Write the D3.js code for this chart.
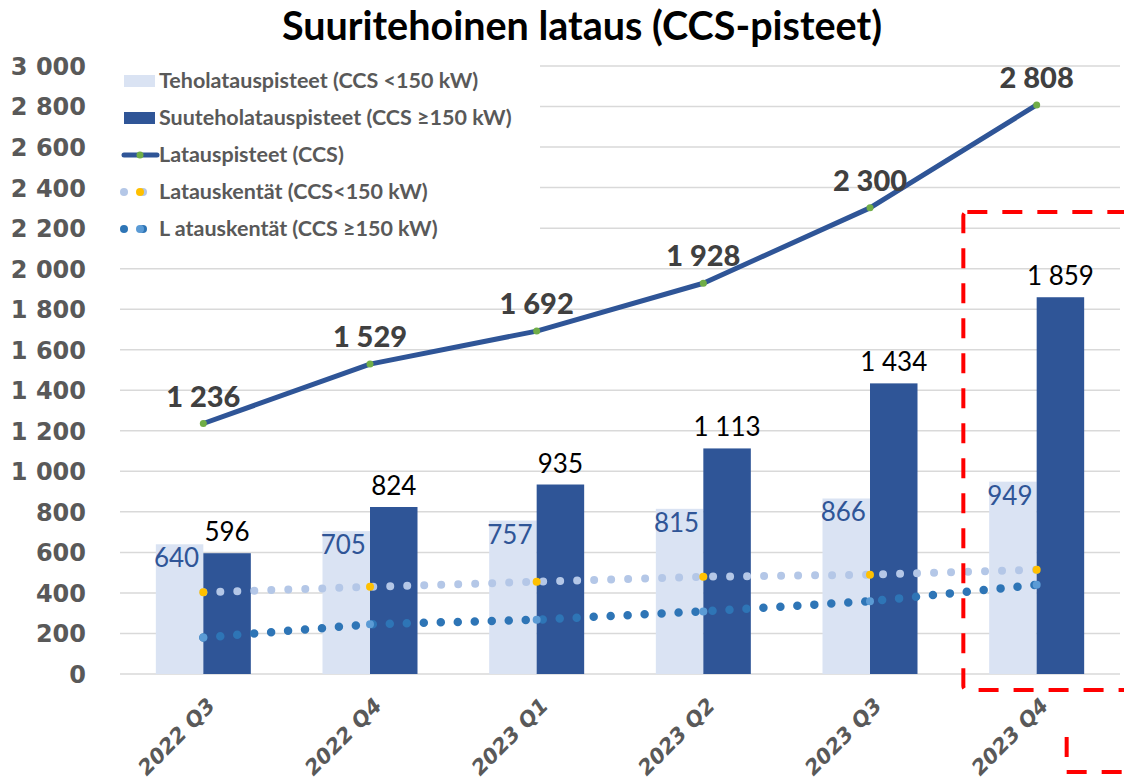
<!DOCTYPE html>
<html>
<head>
<meta charset="utf-8">
<script src="https://cdn.jsdelivr.net/npm/d3@7"></script>
<style>
  body { margin: 0; background: #fff; }
  svg { display: block; }
</style>
</head>
<body>
<svg id="chart" width="1124" height="783"></svg>
<script>
const categories = ["2022 Q3", "2022 Q4", "2023 Q1", "2023 Q2", "2023 Q3", "2023 Q4"];
const teholataus = [640, 705, 757, 815, 866, 949];
const suuteholataus = [596, 824, 935, 1113, 1434, 1859];
const latauspisteet = [1236, 1529, 1692, 1928, 2300, 2808];
const kentatLow = [403, 430, 455, 480, 490, 515];
const kentatHigh = [180, 245, 268, 309, 359, 440];
const yTicks = [0, 200, 400, 600, 800, 1000, 1200, 1400, 1600, 1800, 2000, 2200, 2400, 2600, 2800, 3000];
const legendLabels = [
  "Teholatauspisteet (CCS <150 kW)",
  "Suuteholatauspisteet (CCS ≥150 kW)",
  "Latauspisteet (CCS)",
  "Latauskentät (CCS<150 kW)",
  "L atauskentät (CCS ≥150 kW)"
];

const fmt = (v) => d3.format(",")(v).replace(/,/g, " ");

const svg = d3.select("#chart");
const margin = {top: 66, right: 4, bottom: 109, left: 120};
const W = 1124, H = 783;

const x = d3.scaleBand().domain(categories).range([margin.left, W - margin.right]).padding(0);
const y = d3.scaleLinear().domain([0, 3000]).range([H - margin.bottom, margin.top]);
const cx = (c) => x(c) + x.bandwidth() / 2;
const barW = x.bandwidth() * 0.285;

// gridlines
svg.append("g")
  .selectAll("line")
  .data(yTicks)
  .join("line")
  .attr("x1", margin.left)
  .attr("x2", W - margin.right)
  .attr("y1", (d) => y(d))
  .attr("y2", (d) => y(d))
  .attr("stroke", "#d9d9d9")
  .attr("stroke-width", 1.5);

// y axis labels
const yAxis = svg.append("g")
  .attr("transform", `translate(${margin.left - 31},0)`)
  .call(d3.axisLeft(y).tickValues(yTicks).tickSize(0).tickFormat(fmt));
yAxis.select(".domain").remove();
yAxis.selectAll("text")
  .attr("font-family", "DejaVu Sans")
  .attr("font-weight", "bold")
  .attr("font-size", 24)
  .attr("fill", "#595959")
  .attr("dy", "0.35em");

// x axis labels
const xAxis = svg.append("g")
  .attr("transform", `translate(0,${y(0)})`)
  .call(d3.axisBottom(x).tickSize(0).tickFormat((d) => d));
xAxis.select(".domain").remove();
xAxis.selectAll("text")
  .attr("font-family", "DejaVu Sans")
  .attr("font-weight", "bold")
  .attr("font-style", "italic")
  .attr("font-size", 21)
  .attr("fill", "#595959")
  .attr("text-anchor", "end")
  .attr("dy", 0)
  .attr("y", 0)
  .attr("transform", "translate(13,33) rotate(-45)");

// bars
const rows = categories.map((c, i) => ({c, lo: teholataus[i], hi: suuteholataus[i]}));
svg.append("g")
  .selectAll("rect")
  .data(rows)
  .join("rect")
  .attr("x", (d) => cx(d.c) - barW)
  .attr("y", (d) => y(d.lo))
  .attr("width", barW)
  .attr("height", (d) => y(0) - y(d.lo))
  .attr("fill", "#dae3f3");

svg.append("g")
  .selectAll("rect")
  .data(rows)
  .join("rect")
  .attr("x", (d) => cx(d.c))
  .attr("y", (d) => y(d.hi))
  .attr("width", barW)
  .attr("height", (d) => y(0) - y(d.hi))
  .attr("fill", "#2f5597");

// dotted trend series
function dotted(values, color, marker, width) {
  const pts = categories.map((c, i) => [cx(c), y(values[i])]);
  svg.append("path")
    .attr("d", d3.line()(pts))
    .attr("fill", "none")
    .attr("stroke", color)
    .attr("stroke-width", width)
    .attr("stroke-linecap", "round")
    .attr("stroke-dasharray", "0 17");
  svg.append("g")
    .selectAll("circle")
    .data(pts)
    .join("circle")
    .attr("cx", (d) => d[0])
    .attr("cy", (d) => d[1])
    .attr("r", 4)
    .attr("fill", marker);
}
dotted(kentatLow, "#b4c7e7", "#ffc000", 8);
dotted(kentatHigh, "#2e75b6", "#5b9bd5", 8.5);

// bar labels
svg.append("g")
  .selectAll("text")
  .data(rows)
  .join("text")
  .attr("x", (d) => cx(d.c) - barW / 2 - 3)
  .attr("y", (d) => y(d.lo) + 23)
  .attr("text-anchor", "middle")
  .attr("font-family", "Lato")
  .attr("font-size", 26)
  .attr("fill", "#2f5597")
  .text((d) => fmt(d.lo));

svg.append("g")
  .selectAll("text")
  .data(rows)
  .join("text")
  .attr("x", (d) => cx(d.c) + barW / 2)
  .attr("y", (d) => y(d.hi) - 12)
  .attr("text-anchor", "middle")
  .attr("font-family", "Lato")
  .attr("font-size", 26)
  .attr("fill", "#000")
  .text((d) => fmt(d.hi));

// main line
const linePts = categories.map((c, i) => ({x: cx(c), y: y(latauspisteet[i]), v: latauspisteet[i]}));
svg.append("path")
  .attr("d", d3.line().x((d) => d.x).y((d) => d.y)(linePts))
  .attr("fill", "none")
  .attr("stroke", "#2f5597")
  .attr("stroke-width", 5)
  .attr("stroke-linecap", "round")
  .attr("stroke-linejoin", "round");
svg.append("g")
  .selectAll("circle")
  .data(linePts)
  .join("circle")
  .attr("cx", (d) => d.x)
  .attr("cy", (d) => d.y)
  .attr("r", 3.5)
  .attr("fill", "#70ad47");
svg.append("g")
  .selectAll("text")
  .data(linePts)
  .join("text")
  .attr("x", (d) => d.x)
  .attr("y", (d) => d.y - 17)
  .attr("text-anchor", "middle")
  .attr("font-family", "Lato")
  .attr("font-weight", "900")
  .attr("font-size", 29)
  .attr("fill", "#404040")
  .text((d) => fmt(d.v));

// legend
const lg = svg.append("g");
lg.append("rect")
  .attr("x", 115).attr("y", 58).attr("width", 425).attr("height", 190)
  .attr("fill", "#fff");
const rowY = (i) => 81 + i * 37;
lg.append("rect").attr("x", 124).attr("y", rowY(0) - 6).attr("width", 31).attr("height", 12).attr("fill", "#dae3f3");
lg.append("rect").attr("x", 124).attr("y", rowY(1) - 6).attr("width", 31).attr("height", 12).attr("fill", "#2f5597");
lg.append("line").attr("x1", 124).attr("x2", 157).attr("y1", rowY(2)).attr("y2", rowY(2))
  .attr("stroke", "#2f5597").attr("stroke-width", 5).attr("stroke-linecap", "round");
lg.append("circle").attr("cx", 140).attr("cy", rowY(2)).attr("r", 3.5).attr("fill", "#70ad47");
lg.append("circle").attr("cx", 124).attr("cy", rowY(3)).attr("r", 4).attr("fill", "#b4c7e7");
lg.append("circle").attr("cx", 143).attr("cy", rowY(3)).attr("r", 4).attr("fill", "#b4c7e7");
lg.append("circle").attr("cx", 140).attr("cy", rowY(3)).attr("r", 4).attr("fill", "#ffc000");
lg.append("circle").attr("cx", 124).attr("cy", rowY(4)).attr("r", 4).attr("fill", "#2e75b6");
lg.append("circle").attr("cx", 143).attr("cy", rowY(4)).attr("r", 4).attr("fill", "#2e75b6");
lg.append("circle").attr("cx", 140).attr("cy", rowY(4)).attr("r", 4).attr("fill", "#5b9bd5");
lg.selectAll("text.lab")
  .data(legendLabels)
  .join("text")
  .attr("class", "lab")
  .attr("x", 159)
  .attr("y", (d, i) => rowY(i) + 7)
  .attr("font-family", "Lato")
  .attr("font-weight", "bold")
  .attr("font-size", 21.5)
  .attr("fill", "#595959")
  .text((d) => d);

// title
svg.append("text")
  .attr("x", 582)
  .attr("y", 40)
  .attr("text-anchor", "middle")
  .attr("font-family", "Lato")
  .attr("font-weight", "bold")
  .attr("font-size", 39.5)
  .attr("fill", "#000")
  .text("Suuritehoinen lataus (CCS-pisteet)");

// red dashed highlight around the last quarter
const last = categories[categories.length - 1];
const bx = x(last) + 10;
svg.append("rect")
  .attr("x", bx)
  .attr("y", 212)
  .attr("width", 220)
  .attr("height", y(0) + 16 - 212)
  .attr("rx", 4)
  .attr("fill", "none")
  .attr("stroke", "#ff0000")
  .attr("stroke-width", 4)
  .attr("stroke-dasharray", "20 15");
svg.append("path")
  .attr("d", `M${cx(last) + 30},737 V772 H${W + 20}`)
  .attr("fill", "none")
  .attr("stroke", "#ff0000")
  .attr("stroke-width", 4)
  .attr("stroke-dasharray", "20 15");
</script>
</body>
</html>
